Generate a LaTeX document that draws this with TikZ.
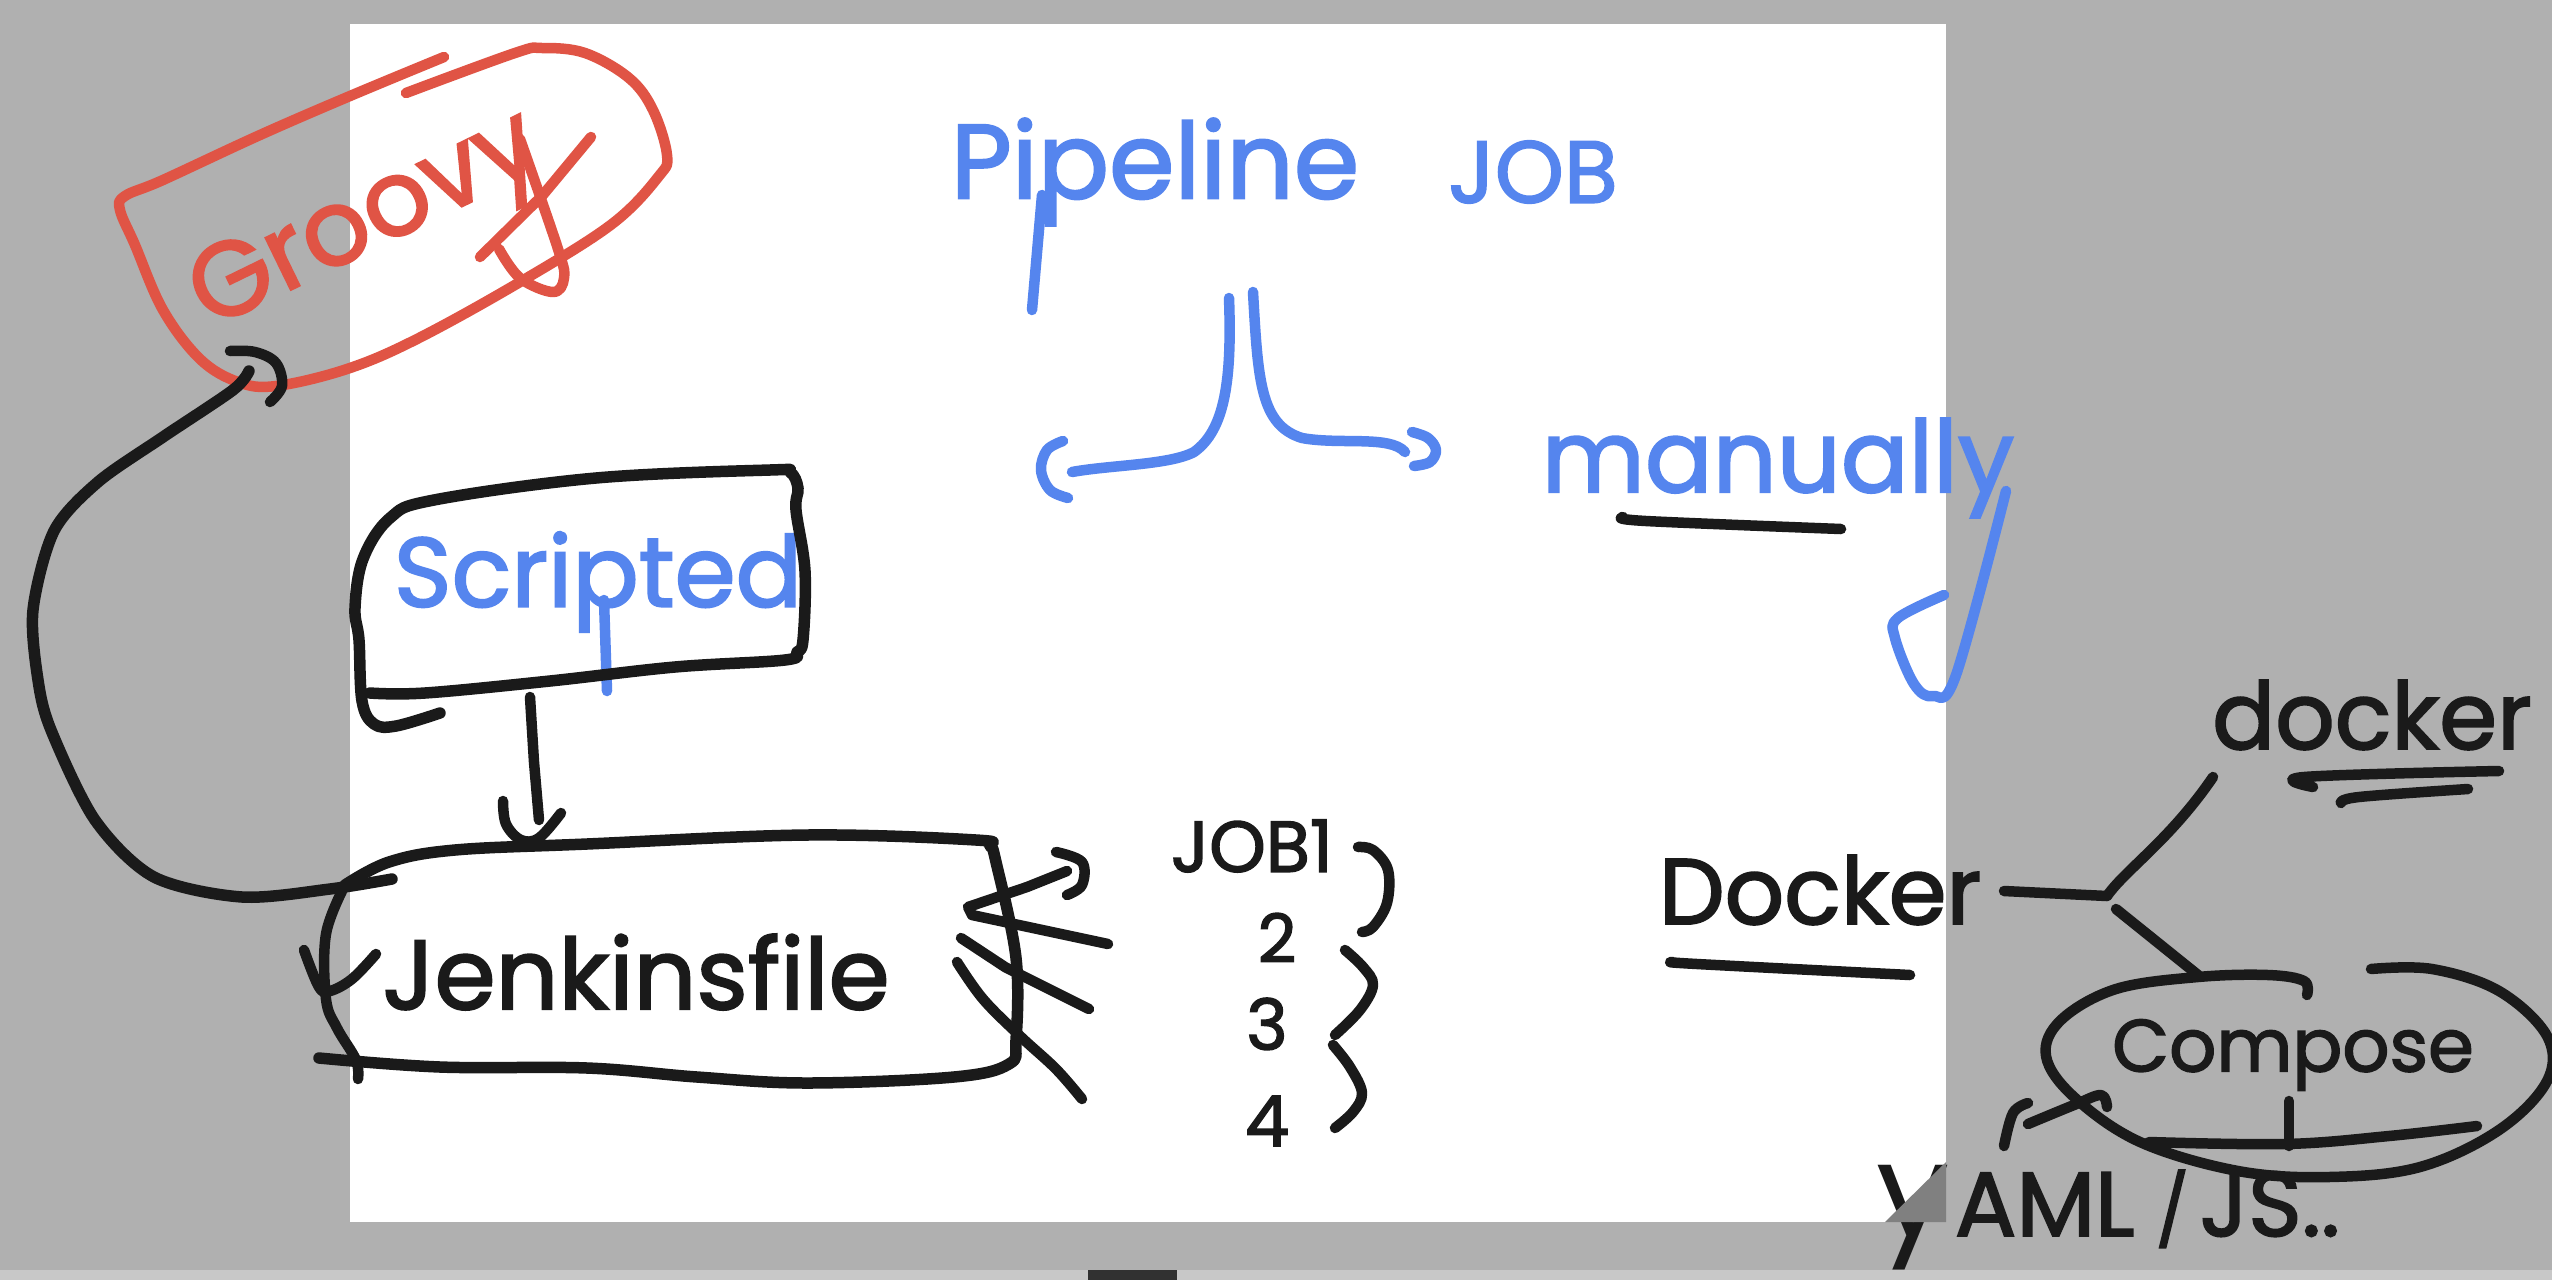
\documentclass[tikz,border=0pt]{standalone}
\usepackage{fontspec}
\setmainfont{Poppins}[FakeBold=2]
\newfontfamily\plainhand{Poppins}
\usetikzlibrary{positioning}
\definecolor{deskgray}{HTML}{B0B0B0}
\definecolor{stripgray}{HTML}{C8C8C8}
\definecolor{foldgray}{HTML}{808080}
\definecolor{inkblack}{HTML}{1A1A1A}
\definecolor{inkred}{HTML}{E05445}
\definecolor{inkblue}{HTML}{5585EE}
\newcommand{\handsize}[1]{\fontsize{#1}{#1}\selectfont}

\begin{document}
\begin{tikzpicture}[
			x=0.2mm, y=-0.2mm,
			node distance=2mm and 0mm,
			inkline/.style={line width=2.3mm, line cap=round, line join=round},
			blackline/.style={inkline, draw=inkblack},
			thinblack/.style={blackline, line width=2.1mm},
			redline/.style={inkline, draw=inkred, line width=2.1mm},
			blueline/.style={inkline, draw=inkblue, line width=2.1mm},
			blacktext/.style={text=inkblack, inner sep=0pt, font=\handsize{#1}},
			bluetext/.style={text=inkblue, inner sep=0pt, font=\handsize{#1}},
			redtext/.style={text=inkred, inner sep=0pt, font=\handsize{#1}},
			wobble/.style={smooth, tension=0.6}
			]

			\useasboundingbox (0,0) rectangle (2552,1280);
			\fill[deskgray] (0,0) rectangle (2552,1280);
			\fill[stripgray] (0,1270) rectangle (2552,1280);
			\fill[inkblack!90] (1088,1270) rectangle (1177,1280);
			\fill[white] (350,24) rectangle (1946,1222);

			\node[redtext=60, rotate=26] (groovy) at (368,226) {Groovy};
			\node[bluetext=60] (pipeline) at (1155,172) {Pipeline};
			\node[bluetext=50] (job) at (1533,172) {JOB};
			\node[bluetext=56] (scripted) at (598,582) {Scripted};
			\node[bluetext=57] (manually) at (1778,468) {manually};
			\node[blacktext=56] (jenkins) at (636,972) {Jenkinsfile};
			\node[blacktext=41] (job1) at (1252,846) {JOB1};
			\node[blacktext=38, below=8mm of job1, xshift=5mm] (job2) {2};
			\node[blacktext=40, below=7mm of job2, xshift=-2mm] (job3) {3};
			\node[blacktext=40, below=9mm of job3] (job4) {4};
			\node[blacktext=53] (docker) at (1820,890) {Docker};
			\node[blacktext=53] (dockercli) at (2372,715) {docker};
			\node[blacktext=42] (compose) at (2293,1055) {Compose};
			\node[blacktext=52, anchor=base west] (yaml) at (1876,1236) {{\plainhand\handsize{74}y}\kern3ptAML\kern12pt{\handsize{40}/}\kern6ptJS..};

			\fill[foldgray] (1946,1162) -- (1885,1222) -- (1946,1222) -- cycle;

			\coordinate (groovytail) at (249,371);
			\coordinate (jenkinstail) at (392,879);
			\coordinate (scriptedout) at (530,697);
			\coordinate (jenkinsin) at (539,820);
			\coordinate (forktopl) at (1229,298);
			\coordinate (forkleft) at (1072,472);
			\coordinate (forktopr) at (1253,292);
			\coordinate (forkright) at (1405,452);
			\coordinate (dockerout) at (2004,891);
			\coordinate (split) at (2107,896);
			\coordinate (dockerclitail) at (2213,777);
			\coordinate (splitdown) at (2116,909);
			\coordinate (composetop) at (2198,975);

			\draw[redline] plot[wobble] coordinates {(444,57) (350,96) (260,135) (163,180) (125,196) (120,210) (135,245) (163,310) (200,359) (238,382) (276,386) (347,369) (417,339) (520,282) (612,224) (659,176) (667,155) (653,110) (629,78) (585,53) (542,48) (515,53) (406,93)};
			\draw[redline] (591,137) -- (542,196) -- (480,257);
			\draw[redline] plot[wobble] coordinates {(499,249) (520,278) (553,292) (564,278) (558,249) (520,139)};

			\draw[thinblack] plot[wobble] coordinates {(230,351) (255,352) (276,363) (282,386) (270,402)};
			\draw[blackline] plot[wobble, tension=0.5] coordinates {(groovytail) (233,390) (163,437) (98,482) (54,531) (33,610) (38,680) (51,730) (95,820) (154,877) (242,897) (330,889) (jenkinstail)};

			\draw[blueline] (1042,195) -- (1032,310);
			\draw[blueline] (604,600) -- (607,691);
			\draw[blackline] plot[wobble] coordinates {(440,713) (396,726) (374,724) (362,701) (359,640) (355,608) (363,559) (390,518) (434,500) (596,478) (770,470) (790,472) (798,488) (796,510) (805,571) (803,640) (797,652) (785,660) (675,667) (550,681) (425,693) (370,693)};

			\draw[thinblack] (scriptedout) -- (534,762) -- (jenkinsin);
			\draw[thinblack] plot[wobble] coordinates {(503,801) (506,824) (521,840) (539,838) (561,813)};

			\draw[blackline] plot[wobble] coordinates {(345,885) (389,862) (455,850) (587,844) (807,835) (976,840) (990,846) (996,862) (1016,958) (1016,1040) (1009,1064) (954,1077) (807,1083) (697,1077) (587,1068) (440,1067) (319,1058)};
			\draw[thinblack] plot[wobble] coordinates {(345,885) (326,934) (326,999) (337,1028) (356,1060) (358,1079)};
			\draw[thinblack] plot[wobble] coordinates {(304,950) (319,987) (330,991) (352,979) (376,954)};
			\draw[thinblack] (1108,944) -- (972,915) -- (968,907) -- (1027,887) -- (1067,871);
			\draw[thinblack] plot[wobble] coordinates {(1056,852) (1082,862) (1082,885) (1067,895)};
			\draw[thinblack] (961,938) -- (1005,967) -- (1089,1009);
			\draw[thinblack] plot[wobble] coordinates {(957,962) (983,999) (1020,1036) (1056,1069) (1082,1099)};

			\draw[blueline] (forktopl) .. controls (1232,380) and (1225,430) .. (1194,452) .. controls (1170,465) and (1110,465) .. (forkleft);
			\draw[blueline] (forktopr) .. controls (1258,380) and (1260,425) .. (1302,438) .. controls (1340,445) and (1390,435) .. (forkright);
			\draw[blueline] plot[wobble] coordinates {(1063,441) (1047,450) (1041,470) (1050,490) (1068,498)};
			\draw[blueline] plot[wobble] coordinates {(1412,432) (1428,438) (1436,450) (1430,462) (1414,466)};
			\draw[blueline] plot[wobble] coordinates {(2006,491) (1956,675) (1933,696) (1914,684) (1895,638) (1898,618) (1944,595)};
			\draw[thinblack] plot[wobble] coordinates {(1623,517) (1646,521) (1841,529)};

			\draw[thinblack] plot[wobble] coordinates {(1358,847) (1373,850) (1388,870) (1387,903) (1373,927) (1362,932)};
			\draw[thinblack] plot[wobble] coordinates {(1345,950) (1363,967) (1373,985) (1360,1010) (1335,1035)};
			\draw[thinblack] plot[wobble] coordinates {(1333,1045) (1350,1067) (1362,1093) (1353,1112) (1335,1128)};

			\draw[thinblack] plot[wobble] coordinates {(1673,962) (1697,964) (1910,975)};
			\draw[thinblack] (dockerout) -- (split);
			\draw[thinblack] (split) .. controls (2125,870) and (2170,840) .. (dockerclitail);
			\draw[thinblack] (splitdown) -- (composetop);
			\draw[thinblack] plot[wobble] coordinates {(2313,787) (2304,777) (2499,771)};
			\draw[thinblack] plot[wobble] coordinates {(2341,803) (2359,797) (2468,789)};

			\draw[thinblack] plot[wobble] coordinates {(2307,995) (2304,981) (2268,975) (2198,977) (2116,989) (2061,1020) (2046,1056) (2074,1097) (2140,1142) (2238,1171) (2329,1177) (2420,1167) (2499,1130) (2547,1081) (2547,1036) (2499,991) (2432,969) (2371,969)};
			\draw[thinblack] plot[wobble] coordinates {(2149,1142) (2286,1144) (2389,1136) (2477,1126)};
			\draw[thinblack] (2289,1101) -- (2289,1146);
			\draw[thinblack] plot[wobble] coordinates {(2004,1146) (2013,1113) (2028,1103)};
			\draw[thinblack] plot[wobble] coordinates {(2028,1124) (2074,1105) (2101,1095) (2107,1107)};

		\end{tikzpicture}
\end{document}
